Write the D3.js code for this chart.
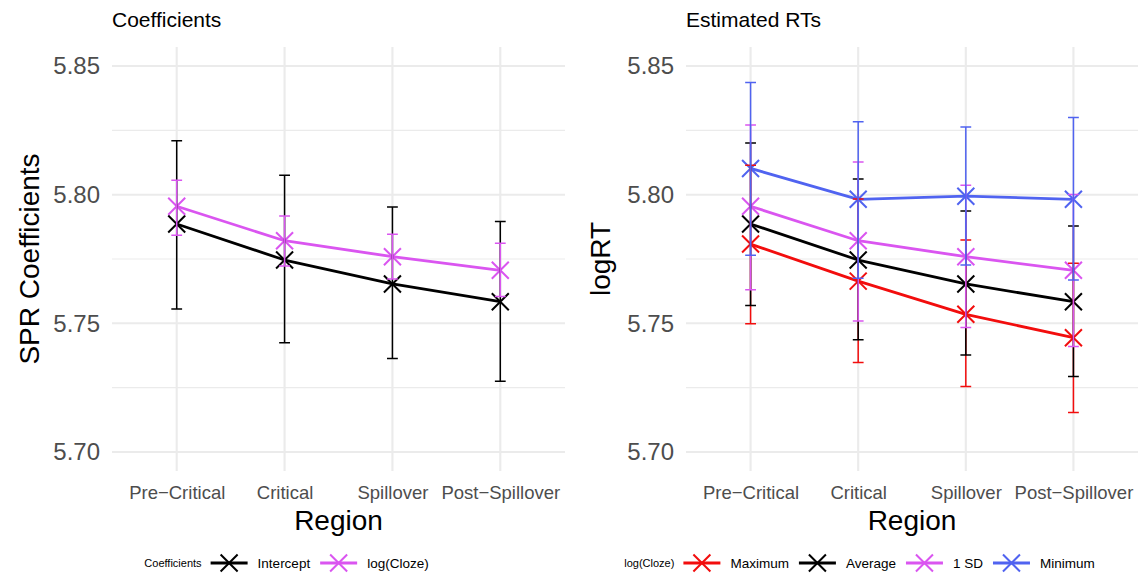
<!DOCTYPE html>
<html>
<head>
<meta charset="utf-8">
<script src="https://cdn.jsdelivr.net/npm/d3@7"></script>
<style>
  html, body { margin: 0; padding: 0; background: #fff; }
  svg { display: block; font-family: "Liberation Sans", Arial, Helvetica, sans-serif; }
</style>
</head>
<body>
<svg id="chart" width="1146" height="573"></svg>
<script>
// Reading regions
const regions = ["Pre\u2212Critical", "Critical", "Spillover", "Post\u2212Spillover"];

// Coefficients panel: estimates with lower / upper interval bounds
const intercept   = [5.7886, 5.7746, 5.7653, 5.7584];
const interceptLo = [5.7556, 5.7424, 5.7363, 5.7275];
const interceptHi = [5.8210, 5.8076, 5.7952, 5.7896];
const logCloze    = [5.7955, 5.7821, 5.7759, 5.7706];
const logClozeLo  = [5.7842, 5.7723, 5.7672, 5.7604];
const logClozeHi  = [5.8056, 5.7917, 5.7846, 5.7811];

// Estimated RTs panel, one series per log(Cloze) level
const maximum   = [5.7808, 5.7664, 5.7535, 5.7444];
const maximumLo = [5.7498, 5.7348, 5.7254, 5.7153];
const maximumHi = [5.8114, 5.7983, 5.7824, 5.7733];
const average   = [5.7886, 5.7746, 5.7653, 5.7584];
const averageLo = [5.7569, 5.7436, 5.7377, 5.7293];
const averageHi = [5.8201, 5.8061, 5.7937, 5.7878];
const oneSD     = [5.7955, 5.7821, 5.7759, 5.7706];
const oneSDLo   = [5.7630, 5.7509, 5.7484, 5.7410];
const oneSDHi   = [5.8271, 5.8127, 5.8037, 5.8001];
const minimum   = [5.8102, 5.7982, 5.7994, 5.7982];
const minimumLo = [5.7765, 5.7675, 5.7727, 5.7668];
const minimumHi = [5.8436, 5.8283, 5.8263, 5.8300];

// Axis ticks
const yMajorTicks = [5.70, 5.75, 5.80, 5.85];
const yMinorTicks = [5.725, 5.775, 5.825];
const yDomain = [5.6926, 5.8574];

const RED = "#F20D0D", BLACK = "#000000", MAGENTA = "#DA55F0", BLUE = "#5063F0";

const coefSeries = [
  { name: "Intercept",  color: BLACK,   y: intercept, lo: interceptLo, hi: interceptHi },
  { name: "log(Cloze)", color: MAGENTA, y: logCloze,  lo: logClozeLo,  hi: logClozeHi }
];
const rtSeries = [
  { name: "Maximum", color: RED,     y: maximum, lo: maximumLo, hi: maximumHi },
  { name: "Average", color: BLACK,   y: average, lo: averageLo, hi: averageHi },
  { name: "1 SD",    color: MAGENTA, y: oneSD,   lo: oneSDLo,   hi: oneSDHi },
  { name: "Minimum", color: BLUE,    y: minimum, lo: minimumLo, hi: minimumHi }
];

const svg = d3.select("#chart");
const PANEL_TOP = 47, PANEL_BOTTOM = 471;

function crossPath(s) {
  return `M${-s},${-s}L${s},${s}M${-s},${s}L${s},${-s}`;
}

function drawPanel(opts) {
  const { left, right, title, yTitle, yTitleX, series, legendTitle, legendCenter } = opts;
  const g = svg.append("g");

  const x = d3.scalePoint().domain(regions).range([left, right]).padding(0.6);
  const y = d3.scaleLinear().domain(yDomain).range([PANEL_BOTTOM, PANEL_TOP]);

  // grid
  const grid = g.append("g");
  grid.selectAll("line.minor").data(yMinorTicks).join("line")
    .attr("x1", left).attr("x2", right)
    .attr("y1", d => y(d)).attr("y2", d => y(d))
    .attr("stroke", "#EBEBEB").attr("stroke-width", 1.1);
  grid.selectAll("line.major").data(yMajorTicks).join("line")
    .attr("x1", left).attr("x2", right)
    .attr("y1", d => y(d)).attr("y2", d => y(d))
    .attr("stroke", "#EBEBEB").attr("stroke-width", 2.1);
  grid.selectAll("line.vert").data(regions).join("line")
    .attr("x1", d => x(d)).attr("x2", d => x(d))
    .attr("y1", PANEL_TOP).attr("y2", PANEL_BOTTOM)
    .attr("stroke", "#EBEBEB").attr("stroke-width", 2.1);

  // y axis labels
  const yAxis = d3.axisLeft(y).tickValues(yMajorTicks).tickFormat(d3.format(".2f")).tickSize(0).tickPadding(12);
  const ya = g.append("g").attr("transform", `translate(${left},0)`).call(yAxis);
  ya.select(".domain").remove();
  ya.selectAll("text").attr("fill", "#4D4D4D").attr("font-size", 24)
    .attr("font-family", "'Liberation Sans', Arial, sans-serif");

  // x axis labels
  const xAxis = d3.axisBottom(x).tickSize(0).tickPadding(0);
  const xa = g.append("g").attr("transform", `translate(0,${PANEL_BOTTOM})`).call(xAxis);
  xa.select(".domain").remove();
  xa.selectAll("text").attr("fill", "#4D4D4D").attr("font-size", 18.5)
    .attr("font-family", "'Liberation Sans', Arial, sans-serif")
    .attr("dy", null).attr("y", 28);

  // titles
  g.append("text").attr("x", left).attr("y", 27).attr("font-size", 21).attr("fill", "#000").text(title);
  g.append("text").attr("x", (left + right) / 2).attr("y", 530).attr("text-anchor", "middle")
    .attr("font-size", 28).attr("fill", "#000").text("Region");
  g.append("text").attr("transform", `translate(${yTitleX},${(PANEL_TOP + PANEL_BOTTOM) / 2}) rotate(-90)`)
    .attr("text-anchor", "middle").attr("font-size", 28).attr("fill", "#000").text(yTitle);

  // lines
  const line = d3.line().x((d, i) => x(regions[i])).y(d => y(d));
  g.append("g").selectAll("path").data(series).join("path")
    .attr("d", s => line(s.y)).attr("fill", "none")
    .attr("stroke", s => s.color).attr("stroke-width", 2.8).attr("stroke-linejoin", "round");

  // points
  series.forEach(s => {
    g.append("g").selectAll("path").data(s.y).join("path")
      .attr("transform", (d, i) => `translate(${x(regions[i])},${y(d)})`)
      .attr("d", crossPath(8.5)).attr("stroke", s.color).attr("stroke-width", 2).attr("fill", "none");
  });

  // error bars
  const cap = 5.4;
  series.forEach(s => {
    const eg = g.append("g").attr("stroke", s.color).attr("stroke-width", 1.5).attr("fill", "none");
    regions.forEach((r, i) => {
      const cx = x(r);
      eg.append("path").attr("d",
        `M${cx},${y(s.lo[i])}L${cx},${y(s.hi[i])}` +
        `M${cx - cap},${y(s.hi[i])}L${cx + cap},${y(s.hi[i])}` +
        `M${cx - cap},${y(s.lo[i])}L${cx + cap},${y(s.lo[i])}`);
    });
  });

  // legend at bottom, centred under its plot
  const lg = g.append("g");
  const ly = 563;
  let cursor = 0;
  const lt = lg.append("text").attr("x", cursor).attr("y", ly + 4).attr("font-size", 11).attr("fill", "#000").text(legendTitle);
  cursor += lt.node().getComputedTextLength() + 9;
  series.forEach((s, k) => {
    const kw = 37;
    lg.append("line").attr("x1", cursor).attr("x2", cursor + kw).attr("y1", ly).attr("y2", ly)
      .attr("stroke", s.color).attr("stroke-width", 2.8);
    lg.append("path").attr("transform", `translate(${cursor + kw / 2},${ly})`)
      .attr("d", crossPath(8.5)).attr("stroke", s.color).attr("stroke-width", 2).attr("fill", "none");
    cursor += kw + 10;
    const t = lg.append("text").attr("x", cursor).attr("y", ly + 5).attr("font-size", 13.5).attr("fill", "#000").text(s.name);
    cursor += t.node().getComputedTextLength() + (k < series.length - 1 ? 10 : 0);
  });
  lg.attr("transform", `translate(${legendCenter - cursor / 2},0)`);
}

drawPanel({
  left: 112, right: 565, title: "Coefficients", yTitle: "SPR Coefficients", yTitleX: 39,
  series: coefSeries, legendTitle: "Coefficients", legendCenter: 286.5
});
drawPanel({
  left: 686, right: 1138, title: "Estimated RTs", yTitle: "logRT", yTitleX: 610,
  series: rtSeries, legendTitle: "log(Cloze)", legendCenter: 859.5
});
</script>
</body>
</html>
